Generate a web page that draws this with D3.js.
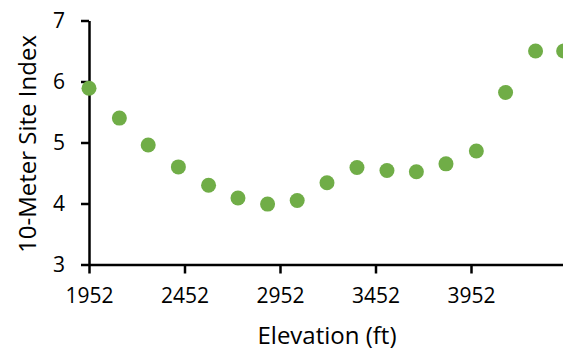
<!DOCTYPE html>
<html>
<head>
<meta charset="utf-8">
<script src="https://cdn.jsdelivr.net/npm/d3@7"></script>
<style>
  html, body { margin: 0; padding: 0; background: #fff; }
  svg { display: block; }
  .axis text { font-family: "Open Sans", sans-serif; font-size: 21px; fill: #000; }
  .axis path, .axis line { stroke: #000; stroke-width: 2.5px; }
  .title { font-family: "Open Sans", sans-serif; font-size: 24px; fill: #000; }
</style>
</head>
<body>
<svg id="chart" width="563" height="354"></svg>
<script>
// Elevation (ft) of each sample point and its 10-meter site index
const elevation = [1952, 2111, 2262, 2420, 2578, 2732, 2887, 3042, 3198, 3355, 3512, 3666, 3821, 3980, 4133, 4290, 4437];
const siteIndex = [5.89, 5.40, 4.96, 4.60, 4.30, 4.09, 3.99, 4.05, 4.34, 4.59, 4.54, 4.52, 4.65, 4.86, 5.82, 6.50, 6.50];
const xTicks = [1952, 2452, 2952, 3452, 3952];
const yTicks = [3, 4, 5, 6, 7];

const svg = d3.select("#chart");
const plotLeft = 89, plotTop = 20.5, plotBottom = 264.5;

const x = d3.scaleLinear().domain([1952, 4452]).range([plotLeft, plotLeft + 2500 * 0.191]);
const y = d3.scaleLinear().domain([3, 7]).range([plotBottom, plotTop]);

// x axis
svg.append("g")
  .attr("class", "axis")
  .attr("transform", `translate(0,${plotBottom})`)
  .call(d3.axisBottom(x).tickValues(xTicks).tickFormat(d3.format("d"))
    .tickSize(9).tickSizeOuter(0).tickPadding(15));

// y axis
svg.append("g")
  .attr("class", "axis")
  .attr("transform", `translate(${plotLeft},0)`)
  .call(d3.axisLeft(y).tickValues(yTicks).tickFormat(d3.format("d"))
    .tickSize(8).tickSizeOuter(0).tickPadding(16));

// points
svg.append("g")
  .selectAll("circle")
  .data(elevation.map((e, i) => ({ e, v: siteIndex[i] })))
  .join("circle")
  .attr("cx", d => x(d.e))
  .attr("cy", d => y(d.v))
  .attr("r", 7.5)
  .attr("fill", "#70AD47");

// axis titles
svg.append("text")
  .attr("class", "title")
  .attr("x", 327)
  .attr("y", 344)
  .attr("text-anchor", "middle")
  .text("Elevation (ft)");

svg.append("text")
  .attr("class", "title")
  .attr("transform", "translate(36,144) rotate(-90)")
  .attr("text-anchor", "middle")
  .text("10-Meter Site Index");
</script>
</body>
</html>
